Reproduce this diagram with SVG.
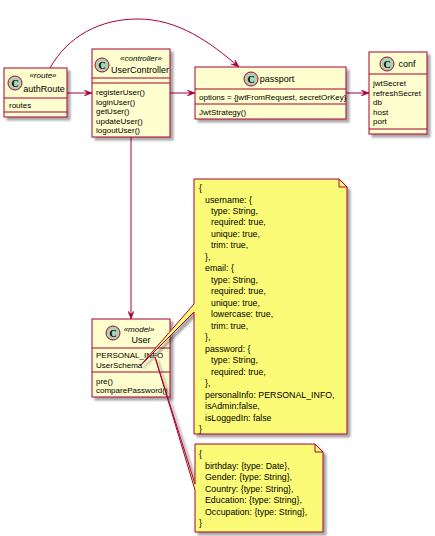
<svg xmlns="http://www.w3.org/2000/svg" width="435" height="536" viewBox="0 0 435 536">
  <defs>
    <filter id="shadow" x="-20%" y="-20%" width="150%" height="150%">
      <feDropShadow dx="3" dy="3" stdDeviation="1.3" flood-color="#000" flood-opacity="0.35"/>
    </filter>
    <marker id="arrow" viewBox="0 0 10 8" markerWidth="8" markerHeight="6.4" refX="10" refY="4" orient="auto" markerUnits="userSpaceOnUse">
      <path d="M0,0 L10,4 L0,8 L4,4 Z" fill="#A80036" stroke="#A80036" stroke-width="0.6"/>
    </marker>
  </defs>
  <style>
    .box { fill: #FEFECE; stroke: #A80036; stroke-width: 1; filter: url(#shadow); }
    .sep { stroke: #A80036; stroke-width: 1; }
    .note { fill: #FBFB77; stroke: #A80036; stroke-width: 1; }
    .circ { fill: #ADD1B2; stroke: #A80036; stroke-width: 1; }
    .cl { font-family: "Liberation Serif", serif; font-weight: bold; font-size: 10px; fill: #000; text-anchor: middle; }
    .name { font-family: "Liberation Sans", Arial, sans-serif; font-size: 9px; fill: #000; text-anchor: middle; }
    .st { font-family: "Liberation Sans", Arial, sans-serif; font-size: 8px; font-style: italic; fill: #000; text-anchor: middle; }
    .mem { font-family: "Liberation Sans", Arial, sans-serif; font-size: 8px; fill: #000; }
    .nt { font-family: "Liberation Sans", Arial, sans-serif; font-size: 8.8px; fill: #000; }
    .edge { fill: none; stroke: #A80036; stroke-width: 1; marker-end: url(#arrow); }
  </style>

  <!-- relations -->
  <g id="connectors">
    <line class="edge" x1="67" y1="93" x2="92" y2="93"/>
    <line class="edge" x1="170" y1="93" x2="195" y2="93"/>
    <line class="edge" x1="346" y1="93" x2="369" y2="93"/>
    <line class="edge" x1="131" y1="137" x2="131" y2="319"/>
    <path class="edge" d="M50,68 C68,36 100,19 138,19 C178,19 210,42 239,67"/>
  </g>

  <g id="authRoute">
    <rect class="box" x="4" y="68" width="63" height="49"/>
    <circle class="circ" cx="15" cy="83" r="7"/>
    <text class="cl" x="15" y="86.5">C</text>
    <text class="st" x="43" y="78">«route»</text>
    <text class="name" x="44" y="92">authRoute</text>
    <line class="sep" x1="4" y1="98" x2="67" y2="98"/>
    <text class="mem" x="9" y="108">routes</text>
    <line class="sep" x1="4" y1="112" x2="67" y2="112"/>
  </g>

  <g id="UserController">
    <rect class="box" x="92" y="49" width="78" height="88"/>
    <circle class="circ" cx="102" cy="65" r="7"/>
    <text class="cl" x="102" y="68.5">C</text>
    <text class="st" x="141" y="61">«controller»</text>
    <text class="name" x="140" y="73">UserController</text>
    <line class="sep" x1="92" y1="78" x2="170" y2="78"/>
    <line class="sep" x1="92" y1="83" x2="170" y2="83"/>
    <text class="mem" x="96" y="95">registerUser()</text>
    <text class="mem" x="96" y="104.5">loginUser()</text>
    <text class="mem" x="96" y="114">getUser()</text>
    <text class="mem" x="96" y="123.5">updateUser()</text>
    <text class="mem" x="96" y="133">logoutUser()</text>
  </g>

  <g id="passport">
    <rect class="box" x="195" y="67" width="151" height="52"/>
    <circle class="circ" cx="251" cy="79" r="7"/>
    <text class="cl" x="251" y="82.5">C</text>
    <text class="name" x="277" y="82">passport</text>
    <line class="sep" x1="195" y1="89" x2="346" y2="89"/>
    <text class="mem" x="199" y="100">options = {jwtFromRequest, secretOrKey}</text>
    <line class="sep" x1="195" y1="104" x2="346" y2="104"/>
    <text class="mem" x="199" y="115">JwtStrategy()</text>
  </g>

  <g id="conf">
    <rect class="box" x="369" y="52" width="58" height="82"/>
    <circle class="circ" cx="387" cy="64" r="7"/>
    <text class="cl" x="387" y="67.5">C</text>
    <text class="name" x="407" y="67">conf</text>
    <line class="sep" x1="369" y1="74" x2="427" y2="74"/>
    <text class="mem" x="373" y="86">jwtSecret</text>
    <text class="mem" x="373" y="95.5">refreshSecret</text>
    <text class="mem" x="373" y="105">db</text>
    <text class="mem" x="373" y="114.5">host</text>
    <text class="mem" x="373" y="124">port</text>
    <line class="sep" x1="369" y1="129" x2="427" y2="129"/>
  </g>

  <g id="User">
    <rect class="box" x="92" y="319" width="78" height="78"/>
    <circle class="circ" cx="113" cy="333" r="7"/>
    <text class="cl" x="113" y="336.5">C</text>
    <text class="st" x="139" y="332">«model»</text>
    <text class="name" x="141" y="343">User</text>
    <line class="sep" x1="92" y1="348" x2="170" y2="348"/>
    <text class="mem" x="96" y="358">PERSONAL_INFO</text>
    <text class="mem" x="96" y="368">UserSchema</text>
    <line class="sep" x1="92" y1="372" x2="170" y2="372"/>
    <text class="mem" x="96" y="384">pre()</text>
    <text class="mem" x="96" y="393">comparePassword()</text>
  </g>

  <!-- schema note, attached to UserSchema -->
  <g id="note-schema">
    <path class="note" filter="url(#shadow)" d="M194,179 H339 L347,187 V434 H194 V312 L140,366 L194,304 Z"/>
    <path d="M339,179 V187 H347" fill="none" stroke="#A80036" stroke-width="1"/>
    <text class="nt" x="199" y="191">{</text>
    <text class="nt" x="205" y="202.5">username: {</text>
    <text class="nt" x="211" y="214">type: String,</text>
    <text class="nt" x="211" y="225.4">required: true,</text>
    <text class="nt" x="211" y="236.9">unique: true,</text>
    <text class="nt" x="211" y="248.4">trim: true,</text>
    <text class="nt" x="205" y="259.9">},</text>
    <text class="nt" x="205" y="271.4">email: {</text>
    <text class="nt" x="211" y="282.8">type: String,</text>
    <text class="nt" x="211" y="294.3">required: true,</text>
    <text class="nt" x="211" y="305.8">unique: true,</text>
    <text class="nt" x="211" y="317.3">lowercase: true,</text>
    <text class="nt" x="211" y="328.8">trim: true,</text>
    <text class="nt" x="205" y="340.2">},</text>
    <text class="nt" x="205" y="351.7">password: {</text>
    <text class="nt" x="211" y="363.2">type: String,</text>
    <text class="nt" x="211" y="374.7">required: true,</text>
    <text class="nt" x="205" y="386.2">},</text>
    <text class="nt" x="205" y="397.6">personalInfo: PERSONAL_INFO,</text>
    <text class="nt" x="205" y="409.1">isAdmin:false,</text>
    <text class="nt" x="205" y="420.6">isLoggedIn: false</text>
    <text class="nt" x="199" y="432">}</text>
  </g>

  <!-- personal info note, attached to PERSONAL_INFO -->
  <g id="note-personal">
    <path class="note" filter="url(#shadow)" d="M195,444 H315 L323,452 V532 H195 V490 L155,357 L195,484 Z"/>
    <path d="M315,444 V452 H323" fill="none" stroke="#A80036" stroke-width="1"/>
    <text class="nt" x="199" y="457">{</text>
    <text class="nt" x="205" y="468.5">birthday: {type: Date},</text>
    <text class="nt" x="205" y="480">Gender: {type: String},</text>
    <text class="nt" x="205" y="491.5">Country: {type: String},</text>
    <text class="nt" x="205" y="503">Education: {type: String},</text>
    <text class="nt" x="205" y="514.5">Occupation: {type: String},</text>
    <text class="nt" x="199" y="526">}</text>
  </g>
</svg>
